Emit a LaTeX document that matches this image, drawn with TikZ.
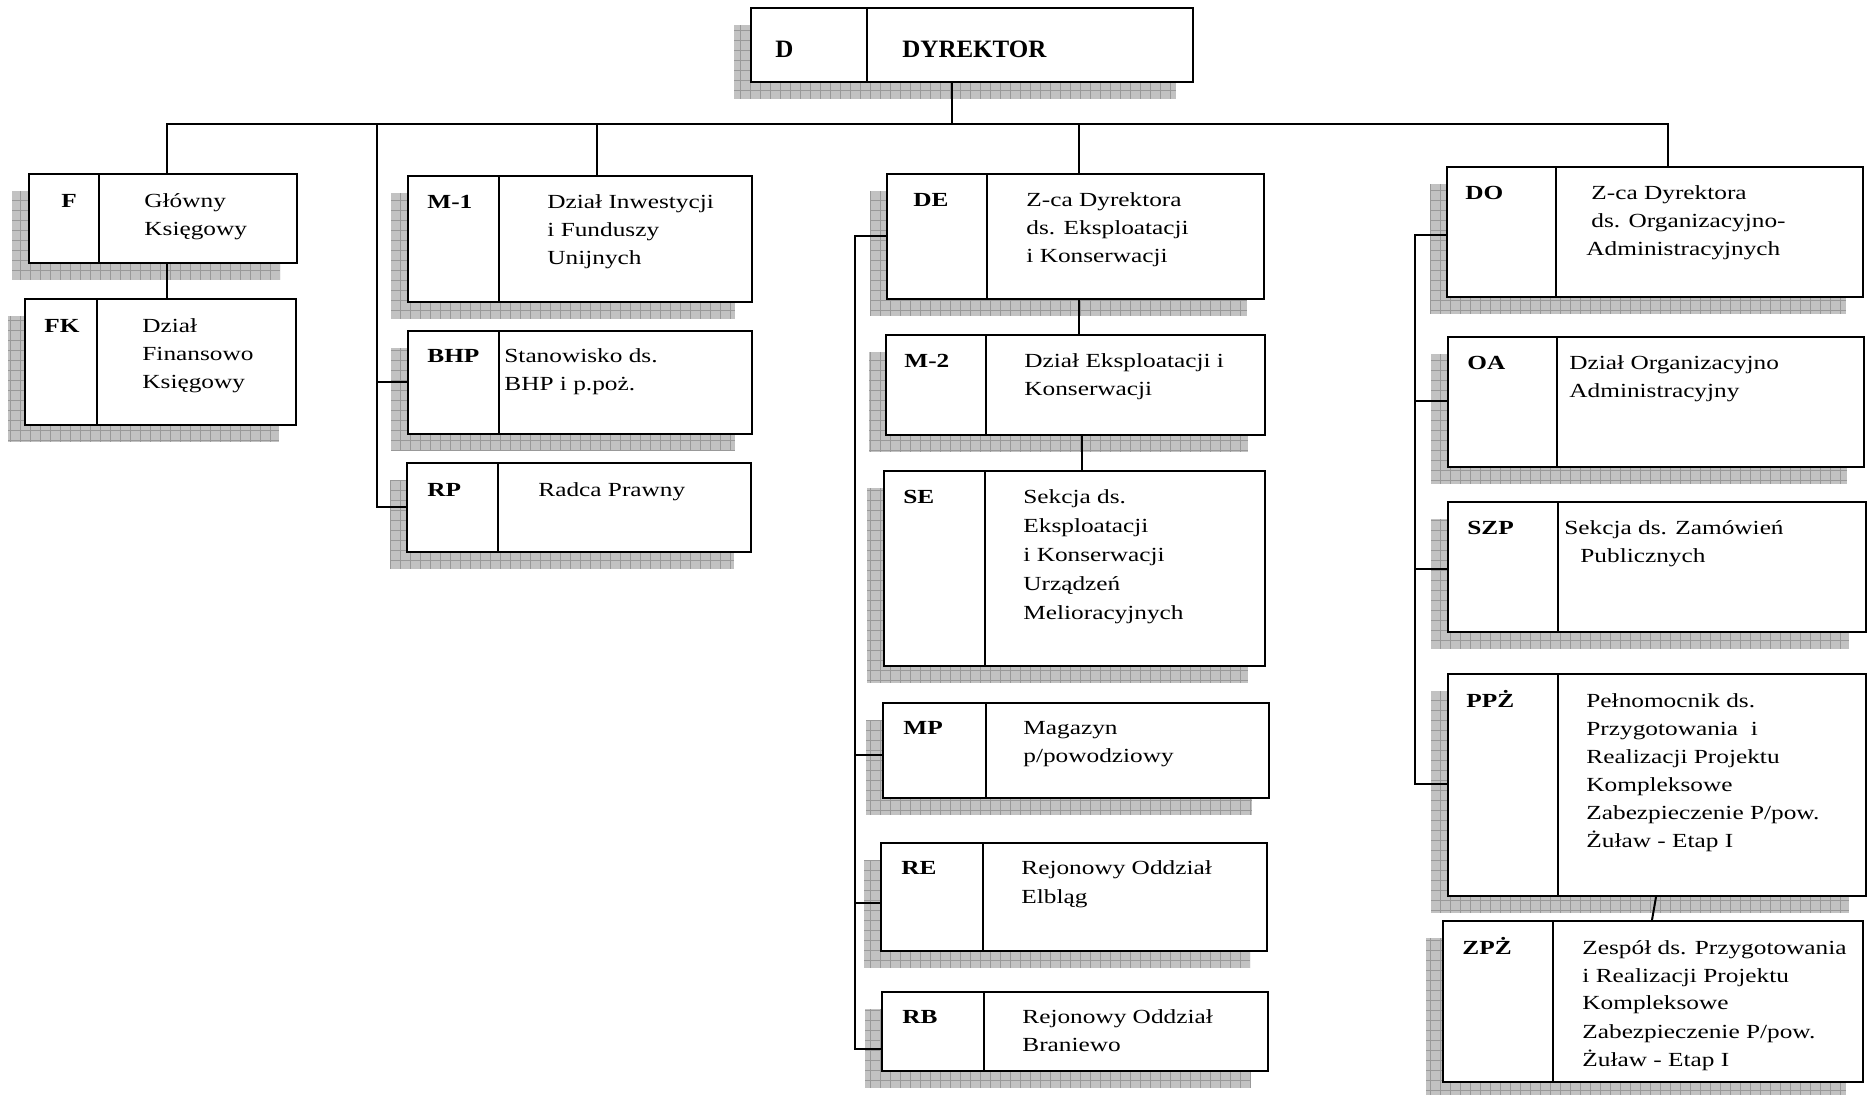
\documentclass[tikz,border=0pt]{standalone}
\usepackage{fontspec}
\setmainfont[FakeStretch=1.265]{Liberation Serif}
\newfontfamily\dirfont[FakeStretch=1.0]{Liberation Serif}
\usetikzlibrary{fit}

\tikzset{
  orgbox/.style={draw, line width=1pt, fill=white, inner sep=0pt, rectangle},
  divline/.style={line width=1pt},
  conn/.style={line width=1pt},
  shadowfill/.style={fill=black!24},
  shadowgrid/.style={draw=black!40, line width=0.4pt},
  lbl/.style={font=\fontsize{10}{14}\selectfont\bfseries, anchor=base west, inner sep=0pt},
  txt/.style={font=\fontsize{10}{14}\selectfont, anchor=base west, inner sep=0pt},
  dirlbl/.style={font=\dirfont\fontsize{12.5}{14}\selectfont\bfseries, anchor=base west, inner sep=0pt},
}

\newcommand\orgunit[6]{%
  \begin{scope}
    \clip (#2-17,#3+17) rectangle (#4-17,#5+17);
    \fill[shadowfill] (#2-17,#3+17) rectangle (#4-17,#5+17);
    \draw[shadowgrid] (#2-17,#3+17) grid[step=5pt] (#4-17,#5+17);
  \end{scope}
  \node[orgbox, fit={(#2,#3)(#4,#5)}] (#1) {};
  \draw[divline] (#6,#3) -- (#6,#5);
}
\newcommand\ml[1]{\begin{tabular}[t]{@{}l@{}}#1\end{tabular}}

\begin{document}
\begin{tikzpicture}[x=0.5pt, y=-0.5pt]
\useasboundingbox (0,0) rectangle (1869,1095);

% boxes
\orgunit{D}{751}{8}{1193}{82}{867}
\orgunit{F}{29}{174}{297}{263}{99}
\orgunit{FK}{25}{299}{296}{425}{97}
\orgunit{M1}{408}{176}{752}{302}{499}
\orgunit{BHP}{408}{331}{752}{434}{499}
\orgunit{RP}{407}{463}{751}{552}{498}
\orgunit{DE}{887}{174}{1264}{299}{987}
\orgunit{M2}{886}{335}{1265}{435}{986}
\orgunit{SE}{884}{471}{1265}{666}{985}
\orgunit{MP}{883}{703}{1269}{798}{986}
\orgunit{RE}{881}{843}{1267}{951}{983}
\orgunit{RB}{882}{992}{1268}{1071}{984}
\orgunit{DO}{1447}{167}{1863}{297}{1556}
\orgunit{OA}{1448}{337}{1864}{467}{1557}
\orgunit{SZP}{1448}{502}{1866}{632}{1558}
\orgunit{PPZ}{1448}{674}{1866}{896}{1558}
\orgunit{ZPZ}{1443}{921}{1863}{1082}{1553}

% junction coordinates
\coordinate (jD) at (952,124);
\coordinate (hL) at (167,124);
\coordinate (hR) at (1668,124);
\coordinate (jM) at (377,124);
\coordinate (jM1) at (597,124);
\coordinate (jDE) at (1079,124);
\coordinate (cDE) at (1082,0);
\coordinate (bDE) at (855,236);
\coordinate (bMP) at (855,755);
\coordinate (bRE) at (855,903);
\coordinate (bRB) at (855,1049);
\coordinate (bDO) at (1415,235);
\coordinate (bOA) at (1415,401);
\coordinate (bSZP) at (1415,569);
\coordinate (bPPZ) at (1415,784);
\coordinate (pA) at (1656,0);
\coordinate (pB) at (1652,0);

% connectors
\draw[conn] (jD |- D.south) -- (jD);
\draw[conn] (hL |- F.north) -- (hL) -- (hR) -- (hR |- DO.north);
\draw[conn] (F.south -| hL) -- (FK.north -| hL);
\draw[conn] (jM1) -- (jM1 |- M1.north);
\draw[conn] (jM) -- (jM |- RP.west) -- (RP.west);
\draw[conn] (jM |- BHP.west) -- (BHP.west);
\draw[conn] (jDE) -- (jDE |- DE.north);
\draw[conn] (DE.south -| jDE) -- (M2.north -| jDE);
\draw[conn] (M2.south -| cDE) -- (SE.north -| cDE);
\draw[conn] (bDE -| DE.west) -- (bDE) -- (bRB) -- (bRB -| RB.west);
\draw[conn] (bMP) -- (bMP -| MP.west);
\draw[conn] (bRE) -- (bRE -| RE.west);
\draw[conn] (bDO -| DO.west) -- (bDO) -- (bPPZ) -- (bPPZ -| PPZ.west);
\draw[conn] (bOA) -- (bOA -| OA.west);
\draw[conn] (bSZP) -- (bSZP -| SZP.west);
\draw[conn] (pA |- PPZ.south) -- (pB |- ZPZ.north);

% texts
\node[dirlbl] (D-l) at (775,58) {D};
\node[dirlbl] (D-t) at (902,58) {DYREKTOR};

\node[lbl] (F-l) at (61,208) {F};
\node[txt] (F-t) at (144,208) {\ml{Główny\\Księgowy}};

\node[lbl] (FK-l) at (44,333) {FK};
\node[txt] (FK-t) at (142,333) {\ml{Dział\\Finansowo\\Księgowy}};

\node[lbl] (M1-l) at (427,209) {M-1};
\node[txt] (M1-t) at (547,209) {\ml{Dział Inwestycji\\i Funduszy\\Unijnych}};

\node[lbl] (BHP-l) at (427,363) {BHP};
\node[txt] (BHP-t) at (504,363) {\ml{Stanowisko ds.\\BHP i p.poż.}};

\node[lbl] (RP-l) at (427,497) {RP};
\node[txt] (RP-t) at (538,497) {Radca Prawny};

\node[lbl] (DE-l) at (913,207) {DE};
\node[txt] (DE-t) at (1026,207) {\ml{Z-ca Dyrektora\\ds. Eksploatacji\\i Konserwacji}};

\node[lbl] (M2-l) at (904,368) {M-2};
\node[txt] (M2-t) at (1024,368) {\ml{Dział Eksploatacji i\\Konserwacji}};

\node[lbl] (SE-l) at (903,504) {SE};
\node[txt, font=\fontsize{10}{14.5}\selectfont] (SE-t) at (1023,504) {\ml{Sekcja ds.\\Eksploatacji\\i Konserwacji\\Urządzeń\\Melioracyjnych}};

\node[lbl] (MP-l) at (903,735) {MP};
\node[txt] (MP-t) at (1023,735) {\ml{Magazyn\\p/powodziowy}};

\node[lbl] (RE-l) at (901,875) {RE};
\node[txt] (RE-t) at (1021,875) {\ml{Rejonowy Oddział\\Elbląg}};

\node[lbl] (RB-l) at (902,1023) {RB};
\node[txt] (RB-t) at (1022,1023) {\ml{Rejonowy Oddział\\Braniewo}};

\node[lbl] (DO-l) at (1465,200) {DO};
\node[txt] (DO-t) at (1586,200) {\ml{\hspace*{2.5pt}Z-ca Dyrektora\\\hspace*{2.5pt}ds. Organizacyjno-\\Administracyjnych}};

\node[lbl] (OA-l) at (1467,370) {OA};
\node[txt] (OA-t) at (1569,370) {\ml{Dział Organizacyjno\\Administracyjny}};

\node[lbl] (SZP-l) at (1467,535) {SZP};
\node[txt] (SZP-t) at (1564,535) {\ml{Sekcja ds. Zamówień\\\hspace*{8pt}Publicznych}};

\node[lbl] (PPZ-l) at (1466,708) {PPŻ};
\node[txt] (PPZ-t) at (1586,708) {\ml{Pełnomocnik ds.\\Przygotowania\ \ i\\Realizacji Projektu\\Kompleksowe\\Zabezpieczenie P/pow.\\Żuław - Etap I}};

\node[lbl] (ZPZ-l) at (1462,954) {ZPŻ};
\node[txt] (ZPZ-t) at (1582,954) {\ml{Zespół ds. Przygotowania\\i Realizacji Projektu\\Kompleksowe\\Zabezpieczenie P/pow.\\Żuław - Etap I}};

\end{tikzpicture}
\end{document}
